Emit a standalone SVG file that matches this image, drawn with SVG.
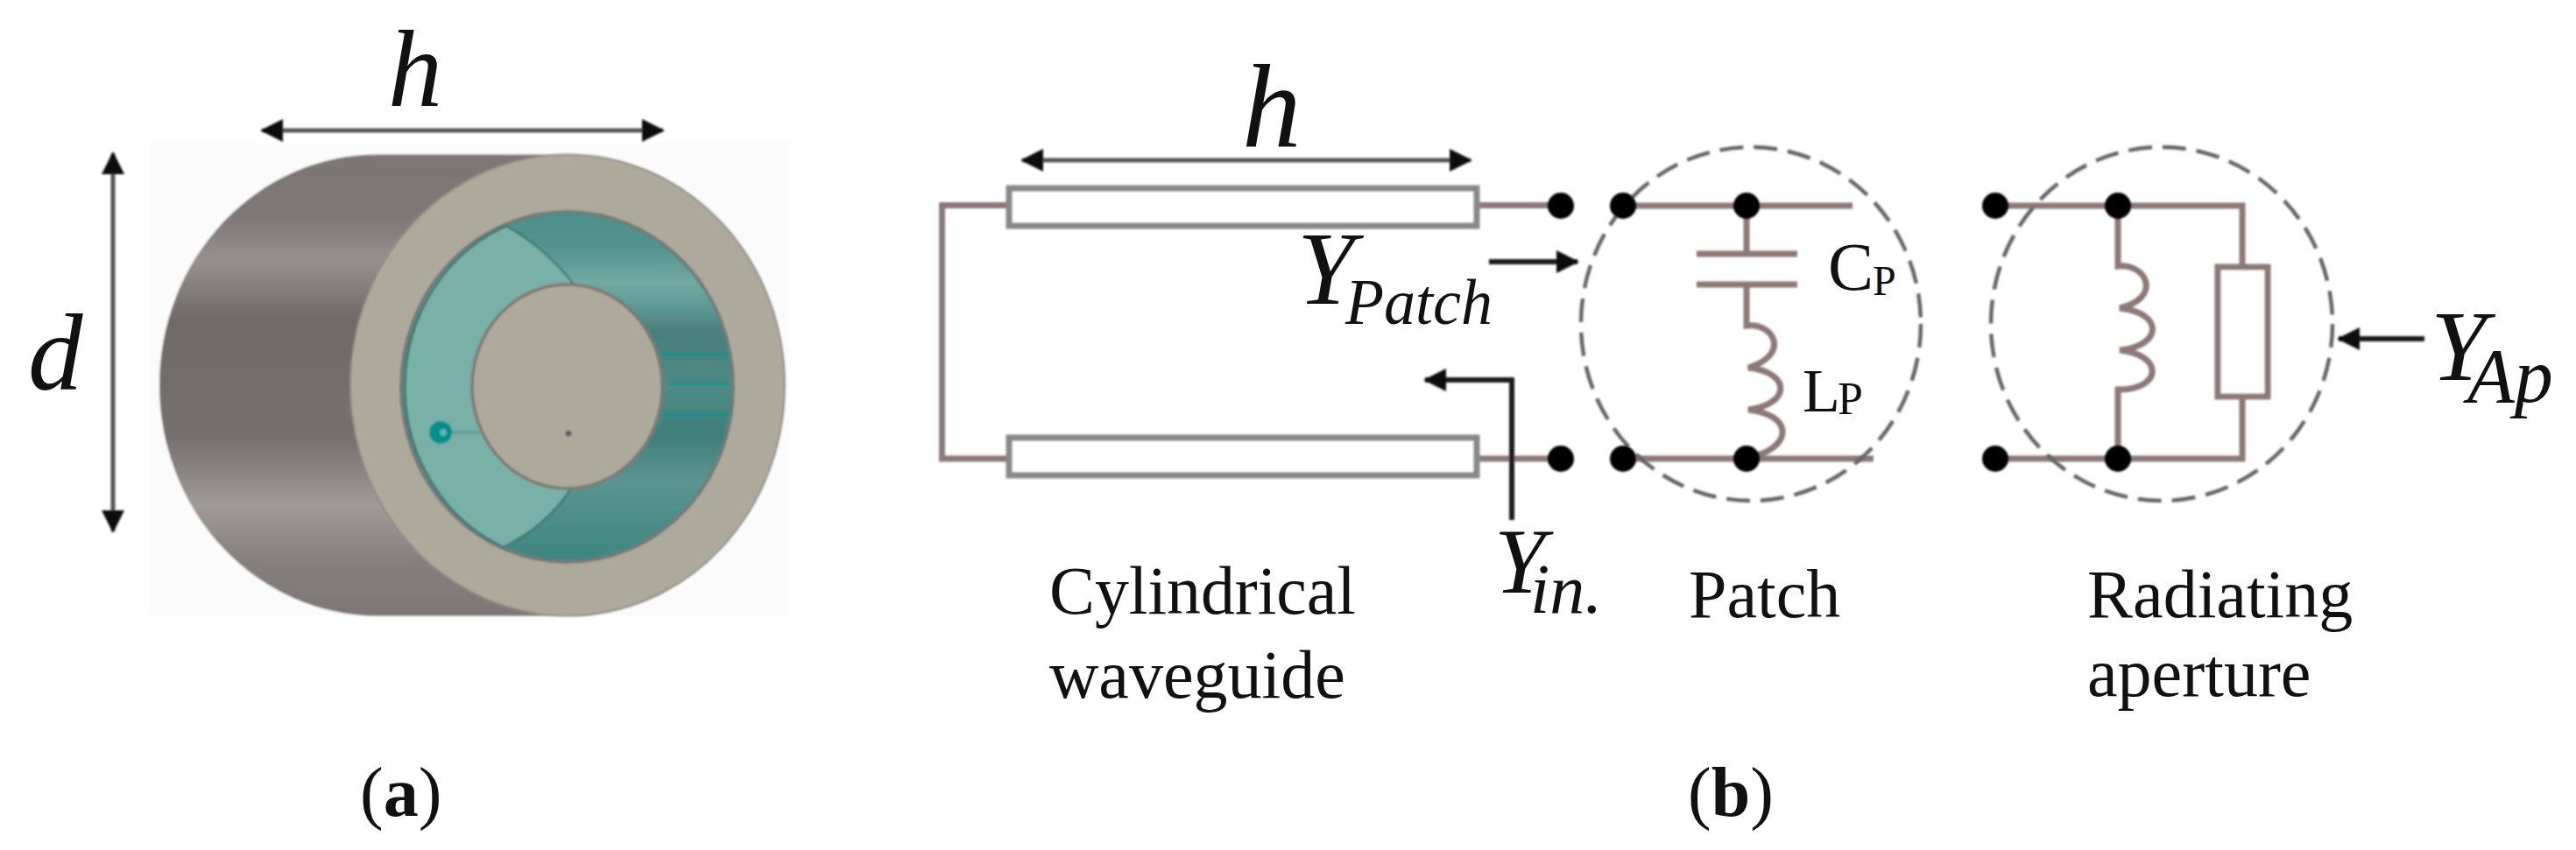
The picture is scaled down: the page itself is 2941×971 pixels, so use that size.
<svg xmlns="http://www.w3.org/2000/svg" width="2941" height="971" viewBox="0 0 2941 971">
<style>
text{font-family:"Liberation Serif","Times New Roman",serif;fill:#111}
.i{font-style:italic}
.b{font-weight:bold}
.l{font-size:78px}
.w{fill:none;stroke:#8c7878;stroke-width:7}
.tl{fill:none;stroke:#888;stroke-width:7}
.dash{fill:none;stroke:#666;stroke-width:4.5;stroke-dasharray:27 12}
.blk{fill:none;stroke:#1a1a1a;stroke-width:6}
.gr{fill:none;stroke:#555;stroke-width:5}
.dot{fill:#000}
.soft{filter:url(#s)}
</style>
<defs>
<filter id="s" x="-5%" y="-5%" width="110%" height="110%"><feGaussianBlur stdDeviation="1"/></filter>
<linearGradient id="body" x1="0" y1="176" x2="0" y2="703" gradientUnits="userSpaceOnUse">
<stop offset="0" stop-color="#7c7775"/><stop offset=".14" stop-color="#7e7977"/><stop offset=".23" stop-color="#96918f"/><stop offset=".36" stop-color="#6f6a68"/><stop offset=".62" stop-color="#76716f"/><stop offset=".76" stop-color="#a09b99"/><stop offset=".88" stop-color="#857f7d"/><stop offset="1" stop-color="#7d7876"/>
</linearGradient>
<linearGradient id="teal" x1="0" y1="242" x2="0" y2="642" gradientUnits="userSpaceOnUse">
<stop offset="0" stop-color="#4c8f8b"/><stop offset=".1" stop-color="#53938f"/><stop offset=".2" stop-color="#72a9a1"/><stop offset=".27" stop-color="#5f9a94"/><stop offset=".34" stop-color="#4a7f7e"/><stop offset=".5" stop-color="#4f8a85"/><stop offset=".64" stop-color="#3f7f7c"/><stop offset=".77" stop-color="#5c9490"/><stop offset=".86" stop-color="#4f8f8a"/><stop offset="1" stop-color="#3e8681"/>
</linearGradient>
<marker id="ah" viewBox="0 0 30 30" refX="28" refY="15" markerWidth="30" markerHeight="30" markerUnits="userSpaceOnUse" orient="auto-start-reverse"><path d="M2 1L30 15L2 29L8 15Z" fill="#111"/></marker>
<marker id="as" viewBox="0 0 26 26" refX="24" refY="13" markerWidth="26" markerHeight="26" markerUnits="userSpaceOnUse" orient="auto-start-reverse"><path d="M0 0L26 13L0 26Z" fill="#111"/></marker>
</defs>
<rect width="2941" height="971" fill="#fff"/>
<g id="cylinder" class="soft">
<rect x="172" y="162" width="728" height="541" fill="#fbfbfb"/>
<path d="M431 176.500A249 263.500 0 0 0 431 703.500L648 703.500V176.500Z" fill="url(#body)"/>
<ellipse cx="648" cy="440" rx="248" ry="263.500" fill="#adaa9c" stroke="#8f8b84" stroke-width="2"/>
<ellipse cx="647.500" cy="442" rx="189.500" ry="200" fill="url(#teal)" stroke="#6f7d78" stroke-width="4"/>
<path d="M578 258A189.500 200 0 0 0 575 625Q625 600 652 558A108.500 116.500 0 0 1 655 325Q625 285 578 258Z" fill="#79b0a7" stroke="#3f7876" stroke-width="2.500"/>
<path d="M755 405H832M765 439H832M757 474H832" fill="none" stroke="#12918d" stroke-width="3.500"/>
<ellipse cx="647.500" cy="441.500" rx="108.500" ry="116.500" fill="#adaa9c" stroke="#7c7a72" stroke-width="3.500"/>
<path d="M503 494H550" fill="none" stroke="#5f9a98" stroke-width="3"/>
<circle cx="503" cy="494" r="13" fill="#048f8c"/>
<circle cx="506" cy="494" r="4" fill="#5cb8b2"/>
<circle cx="649" cy="495" r="3.500" fill="#5f5c58"/>
</g>
<g id="connectors">
<g class="soft">
<path class="gr" d="M299 149H757" marker-start="url(#as)" marker-end="url(#as)"/>
<path class="gr" d="M129 175V607" marker-start="url(#as)" marker-end="url(#as)"/>
<path class="gr" d="M1167 183H1679" marker-start="url(#as)" marker-end="url(#as)"/>
<path class="w" d="M1152 234.500H1075.500V524H1152"/>
<path class="w" d="M1686 234.500H1782M1686 524H1782"/>
<path class="w" d="M1853 235H2115M1853 524H2139"/>
<path class="w" d="M1994 235V290M1937 290H2052M1937 325H2052M1994 325V372C2025 368 2045 405 1996 420C2045 425 2045 462 1996 468C2045 474 2045 505 2012 518L1994 524"/>
<path class="w" d="M2278 235H2560V305M2278 524H2560V453"/>
<path class="w" d="M2418 235V304C2450 300 2470 340 2420 352C2470 357 2470 395 2420 400C2470 405 2470 445 2418 445V524"/>
<path class="blk" d="M1700 299H1801" marker-end="url(#as)"/>
<path class="blk" d="M1726 594V434H1627" marker-end="url(#as)"/>
<path class="blk" d="M2768 387H2670" marker-end="url(#as)"/>
</g>
</g>
<g id="waveguide" class="soft">
<rect class="tl" x="1152" y="215" width="534" height="43" fill="#fff"/>
<rect class="tl" x="1152" y="500" width="534" height="43" fill="#fff"/>
</g>
<g id="patch" class="soft">
<ellipse class="dash" cx="1999" cy="370" rx="194" ry="202"/>
<circle class="dot" cx="1782" cy="235" r="15"/><circle class="dot" cx="1782" cy="524" r="15"/>
<circle class="dot" cx="1853" cy="235" r="15"/><circle class="dot" cx="1853" cy="524" r="15"/>
<circle class="dot" cx="1994" cy="235" r="15"/><circle class="dot" cx="1994" cy="524" r="15"/>
</g>
<g id="aperture" class="soft">
<ellipse class="dash" cx="2468" cy="370" rx="195" ry="202"/>
<rect x="2532" y="305" width="57" height="148" fill="#fff" stroke="#8c7878" stroke-width="7"/>
<circle class="dot" cx="2278" cy="235" r="15"/><circle class="dot" cx="2278" cy="524" r="15"/>
<circle class="dot" cx="2418" cy="235" r="15"/><circle class="dot" cx="2418" cy="524" r="15"/>
</g>
<g id="labels">
<text class="i" x="443" y="121" font-size="125" textLength="62" lengthAdjust="spacingAndGlyphs">h</text>
<text class="i" x="32" y="445" font-size="125">d</text>
<text x="411" y="932" font-size="80">(<tspan class="b">a</tspan>)</text>
<text x="1927" y="932" font-size="80">(<tspan class="b">b</tspan>)</text>
<text class="i" x="1418" y="167" font-size="135">h</text>
<text class="i" x="1481" y="347" font-size="118">Y</text>
<text class="i" x="1536" y="370" font-size="74" textLength="168" lengthAdjust="spacingAndGlyphs">Patch</text>
<text class="i" x="1706" y="677" font-size="105">Y</text>
<text class="i" x="1747" y="700" font-size="80">in.</text>
<text class="i" x="2775" y="434" font-size="115">Y</text>
<text class="i" x="2817" y="459" font-size="88">Ap</text>
<text x="2087" y="331" font-size="78">C</text>
<text x="2138" y="337" font-size="48">P</text>
<text x="2058" y="470" font-size="70">L</text>
<text x="2098" y="473" font-size="52">P</text>
<text class="l" x="1198" y="701" textLength="350" lengthAdjust="spacingAndGlyphs">Cylindrical</text>
<text class="l" x="1198" y="797">waveguide</text>
<text class="l" x="1928" y="705">Patch</text>
<text class="l" x="2383" y="705">Radiating</text>
<text class="l" x="2383" y="795">aperture</text>
</g>
</svg>
